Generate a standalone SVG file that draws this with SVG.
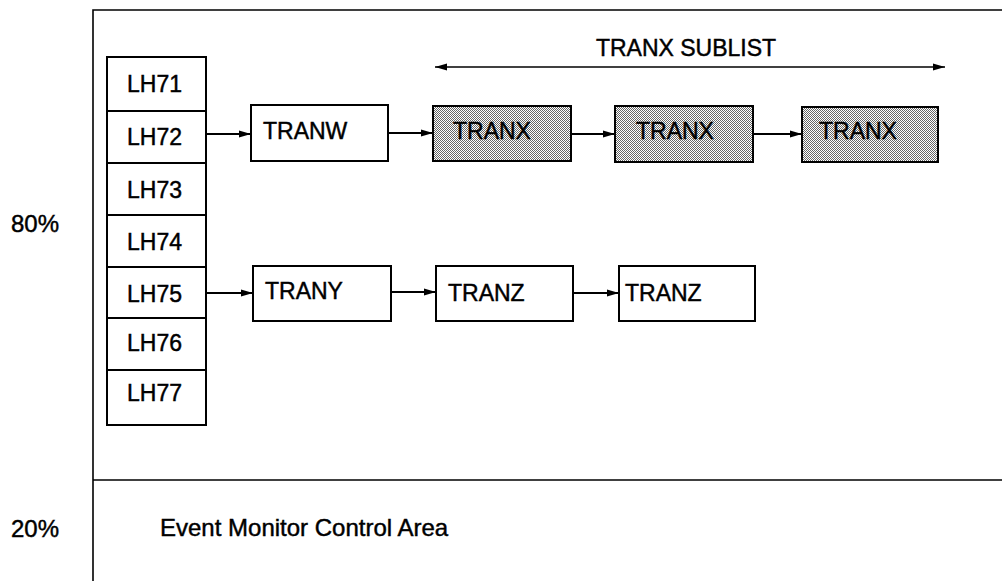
<svg xmlns="http://www.w3.org/2000/svg" width="1002" height="581" viewBox="0 0 1002 581">
<style>
text{font-family:"Liberation Sans",Arial,sans-serif;font-size:23px;fill:#000;stroke:#000;stroke-width:0.45}
.big{font-size:24px}
.box{fill:#fff;stroke:#000;stroke-width:2}
.shade{fill:url(#dots);stroke:#000;stroke-width:2}
.conn{stroke:#000;stroke-width:1.8;fill:none;marker-end:url(#ah)}
.frame{stroke:#000;stroke-width:1.6;fill:none}
</style>
<defs>
<pattern id="dots" width="2" height="2" patternUnits="userSpaceOnUse">
<rect width="2" height="2" fill="#fff"/>
<rect x="0" y="0" width="1" height="1" fill="#666"/>
<rect x="1" y="1" width="1" height="1" fill="#666"/>
</pattern>
<marker id="ah" markerWidth="12" markerHeight="8" refX="12" refY="4" orient="auto" markerUnits="userSpaceOnUse">
<path d="M0,0.5 L12,4 L0,7.5 Z" fill="#000"/>
</marker>
<marker id="ahs" markerWidth="12" markerHeight="8" refX="0" refY="4" orient="auto" markerUnits="userSpaceOnUse">
<path d="M12,0.5 L0,4 L12,7.5 Z" fill="#000"/>
</marker>
</defs>
<g id="frame">
<path class="frame" d="M93,581 V10 H1002"/>
<path class="frame" d="M93,480 H1002"/>
<text class="big" x="11" y="232">80%</text>
<text class="big" x="11" y="537">20%</text>
</g>
<g id="event-area"><text class="big" x="160" y="536">Event Monitor Control Area</text></g>
<g id="lh71"><rect class="box" x="107" y="57" width="99" height="54"/><text x="127" y="92">LH71</text></g>
<g id="lh72"><rect class="box" x="107" y="111" width="99" height="52"/><text x="127" y="145">LH72</text></g>
<g id="lh73"><rect class="box" x="107" y="163" width="99" height="52"/><text x="127" y="198">LH73</text></g>
<g id="lh74"><rect class="box" x="107" y="215" width="99" height="52"/><text x="127" y="250">LH74</text></g>
<g id="lh75"><rect class="box" x="107" y="267" width="99" height="51"/><text x="127" y="302">LH75</text></g>
<g id="lh76"><rect class="box" x="107" y="318" width="99" height="52"/><text x="127" y="351">LH76</text></g>
<g id="lh77"><rect class="box" x="107" y="370" width="99" height="55"/><text x="127" y="401">LH77</text></g>
<g id="tranw"><rect class="box" x="251" y="105" width="137" height="56"/><text x="263" y="139">TRANW</text></g>
<g id="tranx1"><rect class="shade" x="433" y="106" width="138" height="55"/><text x="453" y="139">TRANX</text></g>
<g id="tranx2"><rect class="shade" x="615" y="106" width="138" height="56"/><text x="636" y="139">TRANX</text></g>
<g id="tranx3"><rect class="shade" x="802" y="107" width="136" height="55"/><text x="819" y="139">TRANX</text></g>
<g id="trany"><rect class="box" x="253" y="266" width="138" height="55"/><text x="265" y="299">TRANY</text></g>
<g id="tranz1"><rect class="box" x="436" y="266" width="137" height="55"/><text x="448" y="301">TRANZ</text></g>
<g id="tranz2"><rect class="box" x="619" y="266" width="136" height="55"/><text x="625" y="301">TRANZ</text></g>
<g id="sublist"><text x="686" y="56" text-anchor="middle">TRANX SUBLIST</text></g>
<g id="connectors">
<line x1="435" y1="67" x2="945" y2="67" stroke="#000" stroke-width="1.6" marker-start="url(#ahs)" marker-end="url(#ah)"/>
<line class="conn" x1="206" y1="134" x2="251" y2="134"/>
<line class="conn" x1="388" y1="133" x2="433" y2="133"/>
<line class="conn" x1="571" y1="134" x2="615" y2="134"/>
<line class="conn" x1="753" y1="134" x2="802" y2="134"/>
<line class="conn" x1="206" y1="293" x2="253" y2="293"/>
<line class="conn" x1="391" y1="292" x2="436" y2="292"/>
<line class="conn" x1="573" y1="293" x2="619" y2="293"/>
</g>
</svg>
